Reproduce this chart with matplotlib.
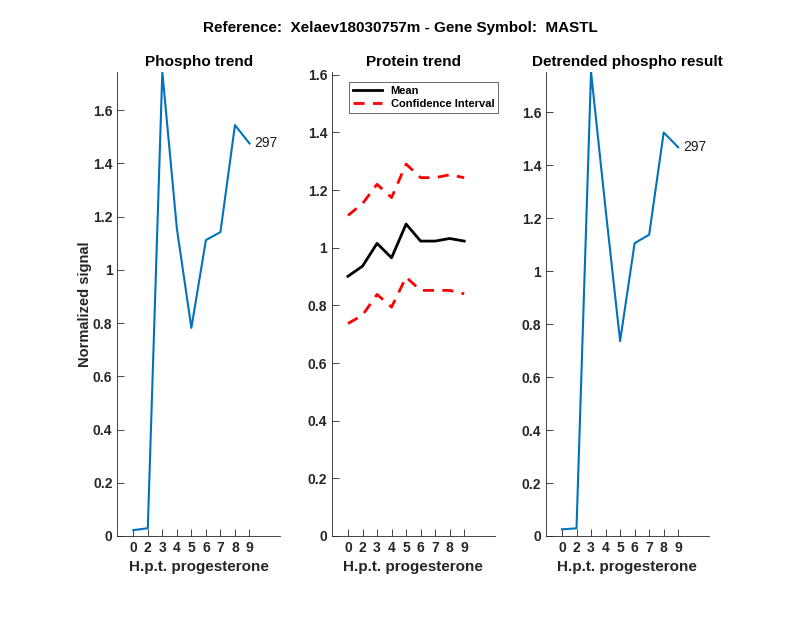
import matplotlib.pyplot as plt

plt.rcParams['font.family'] = ['Liberation Sans', 'DejaVu Sans']

# Dados
hours = ['0', '2', '3', '4', '5', '6', '7', '8', '9']
phospho = [0.022, 0.029, 1.744, 1.156, 0.782, 1.112, 1.142, 1.544, 1.475]
protein_mean = [0.901, 0.936, 1.015, 0.965, 1.082, 1.023, 1.023, 1.032, 1.023]
protein_upper = [1.112, 1.153, 1.220, 1.174, 1.290, 1.243, 1.243, 1.253, 1.243]
protein_lower = [0.737, 0.766, 0.838, 0.794, 0.898, 0.852, 0.852, 0.852, 0.840]
detrended = [0.025, 0.029, 1.753, 1.235, 0.736, 1.106, 1.138, 1.524, 1.468]
yticks = [0, 0.2, 0.4, 0.6, 0.8, 1.0, 1.2, 1.4, 1.6]
ytick_labels = ['0', '0.2', '0.4', '0.6', '0.8', '1', '1.2', '1.4', '1.6']
peptide_id = '297'

pos = list(range(1, len(hours) + 1))
axcol = '#262626'

fig = plt.figure(figsize=(8, 6.18), dpi=100)
fig.text(0.5, 0.955, 'Reference:  Xelaev18030757m - Gene Symbol:  MASTL',
         ha='center', va='center', fontsize=11, fontweight='bold')

lefts = [0.1466, 0.415, 0.6825]
axes = [fig.add_axes([l, 0.1327, 0.2034, 0.751]) for l in lefts]


def style(ax, title):
    ax.set_title(title, fontsize=11, fontweight='bold', pad=4)
    ax.set_xticks(pos)
    ax.set_xticklabels(hours)
    ax.set_yticks(yticks)
    ax.set_yticklabels(ytick_labels)
    ax.set_xlim(-0.1, 11.1)
    ax.spines['top'].set_visible(False)
    ax.spines['right'].set_visible(False)
    for s in ['left', 'bottom']:
        ax.spines[s].set_color(axcol)
        ax.spines[s].set_linewidth(0.6)
    ax.tick_params(direction='in', length=5, width=0.6, colors=axcol, labelsize=10)
    for lbl in ax.get_xticklabels() + ax.get_yticklabels():
        lbl.set_fontweight('bold')
    ax.set_xlabel('H.p.t. progesterone', fontsize=11, fontweight='bold', color=axcol)


# Phospho trend
ax = axes[0]
ax.plot(pos, phospho, color='#0072BD', lw=1.5)
ax.text(pos[-1] + 0.35, phospho[-1], peptide_id, fontsize=10, va='center', color='#1a1a1a')
style(ax, 'Phospho trend')
ax.set_ylim(0, max(phospho))
ax.set_ylabel('Normalized signal', fontsize=10.5, fontweight='bold', color=axcol, labelpad=0.5)

# Protein trend
ax = axes[1]
ax.plot(pos, protein_mean, color='black', lw=2, label='Mean')
ax.plot(pos, protein_upper, color='red', lw=2, ls=(0, (4, 3)), label='Confidence Interval')
ax.plot(pos, protein_lower, color='red', lw=2, ls=(0, (4, 3)))
style(ax, 'Protein trend')
ax.set_ylim(0, 1.61)
leg = ax.legend(loc='upper left', bbox_to_anchor=(0.07, 0.99), frameon=True,
                fancybox=False, edgecolor=axcol, borderpad=0.35, labelspacing=0.25,
                handlelength=2.6, prop={'weight': 'bold', 'size': 8})
leg.get_frame().set_linewidth(0.6)

# Detrended phospho result
ax = axes[2]
ax.plot(pos, detrended, color='#0072BD', lw=1.5)
ax.text(pos[-1] + 0.35, detrended[-1], peptide_id, fontsize=10, va='center', color='#1a1a1a')
style(ax, 'Detrended phospho result')
ax.set_ylim(0, max(detrended))

fig.savefig('out.png', dpi=100)
